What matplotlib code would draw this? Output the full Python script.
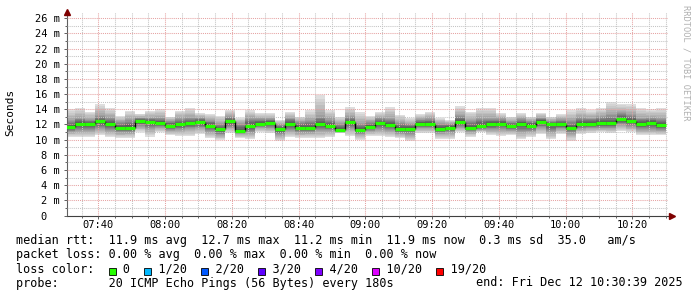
import numpy as np
import pandas as pd
import matplotlib
matplotlib.use("Agg")
import matplotlib.pyplot as plt
import matplotlib.dates as mdates
from matplotlib.patches import Rectangle
from matplotlib.ticker import MultipleLocator, FixedFormatter, FixedLocator

# ---- data: 20-ping rounds every 180 s, values in ms ----
step_start = pd.Timestamp("2025-12-12 07:30:00")
n_steps = 60

median_ms = [11.7, 12.05, 12.05, 12.4, 12.0, 11.6, 11.6, 12.45, 12.3, 12.2,
             11.85, 12.0, 12.15, 12.3, 11.85, 11.35, 12.42, 11.2, 11.85, 12.1,
             12.2, 11.36, 12.1, 11.58, 11.58, 12.0, 11.8, 11.27, 12.28, 11.27,
             11.7, 12.15, 11.98, 11.45, 11.45, 12.07, 12.07, 11.45, 11.58, 12.28,
             11.58, 11.85, 12.02, 12.1, 11.85, 12.05, 11.85, 12.33, 12.02, 12.02,
             11.53, 12.07, 12.07, 12.15, 12.15, 12.73, 12.47, 12.07, 12.24, 11.9]

max_ms = [14.0, 14.2, 13.7, 14.7, 14.15, 13.15, 13.8, 13.4, 13.8, 14.0,
          13.05, 13.8, 14.15, 13.5, 13.4, 13.15, 13.85, 12.85, 13.85, 13.5,
          13.5, 12.6, 13.7, 13.05, 13.85, 15.85, 13.85, 12.95, 14.3, 13.6,
          13.15, 13.7, 14.3, 13.25, 12.85, 13.4, 13.7, 12.85, 12.6, 14.4,
          13.7, 14.15, 14.15, 13.55, 13.05, 13.55, 13.05, 13.55, 13.05, 13.4,
          13.85, 14.15, 13.85, 14.15, 15.0, 14.7, 14.7, 14.15, 14.0, 14.15]

min_ms = [10.4, 10.3, 10.4, 10.6, 10.3, 10.2, 10.25, 11.0, 10.4, 11.0,
          10.6, 10.5, 10.5, 10.7, 10.25, 9.95, 10.9, 10.2, 10.05, 11.0,
          10.9, 9.85, 10.4, 10.2, 10.25, 10.2, 10.4, 10.85, 10.5, 9.95,
          10.5, 10.45, 10.4, 10.2, 9.85, 10.9, 10.9, 10.1, 10.1, 11.0,
          10.4, 11.0, 10.6, 10.5, 10.6, 10.05, 10.4, 10.75, 10.05, 10.75,
          9.85, 10.75, 10.9, 11.0, 10.9, 11.2, 11.0, 10.6, 10.6, 10.6]

q_hi_ms = [12.6, 12.9, 12.7, 13.3, 13.0, 12.4, 12.7, 12.9, 12.9, 12.9,
           12.5, 12.9, 13.0, 12.9, 12.6, 12.2, 13.1, 12.2, 12.9, 12.8,
           12.8, 12.0, 12.9, 12.4, 12.6, 13.2, 12.8, 12.2, 13.1, 12.2,
           12.4, 12.9, 12.9, 12.3, 12.1, 12.7, 12.8, 12.2, 12.1, 13.2,
           12.6, 12.9, 12.9, 12.8, 12.4, 12.8, 12.5, 12.9, 12.5, 12.7,
           12.6, 13.0, 12.9, 13.1, 13.4, 13.6, 13.4, 12.9, 12.9, 12.8]

q_lo_ms = [11.0, 11.1, 11.2, 11.4, 11.1, 10.9, 10.9, 11.7, 11.4, 11.6,
           11.2, 11.3, 11.4, 11.5, 11.0, 10.6, 11.6, 10.8, 10.9, 11.6,
           11.5, 10.6, 11.2, 10.9, 10.9, 11.1, 11.2, 11.0, 11.4, 10.7,
           11.1, 11.3, 11.2, 10.8, 10.6, 11.5, 11.5, 10.8, 10.9, 11.6,
           11.0, 11.3, 11.3, 11.3, 11.2, 11.0, 11.1, 11.5, 11.0, 11.4,
           10.8, 11.4, 11.5, 11.5, 11.5, 11.9, 11.7, 11.3, 11.3, 11.2]

loss_labels = ["0", "1/20", "2/20", "3/20", "4/20", "10/20", "19/20"]
loss_colors = ["#26ff00", "#00b8ff", "#0059ff", "#5e00ff", "#7e00ff", "#dd00ff", "#ff0000"]

y_ticks = list(range(0, 27, 2))
y_labels = ["0  "] + [f"{v} m" for v in y_ticks[1:]]

# ---- figure ----
plt.rcParams["font.family"] = "DejaVu Sans Mono"
W, H = 697, 297
fig = plt.figure(figsize=(W / 100, H / 100), dpi=100)
fig.patch.set_facecolor("white")

x0, x1, ytop, ybot = 67, 668, 12, 215.5
ax = fig.add_axes([x0 / W, 1 - ybot / H, (x1 - x0) / W, (ybot - ytop) / H])

edges = pd.date_range(step_start, periods=n_steps + 1, freq="3min")
ex = mdates.date2num(edges.to_pydatetime())
left = ex[:-1]
width = ex[1] - ex[0]

med = np.array(median_ms)
lo, hi = np.array(min_ms), np.array(max_ms)
qlo, qhi = np.array(q_lo_ms), np.array(q_hi_ms)

# smoke: outer layers light, inner layers dark
outer = np.linspace(0, 1, 7)
outer_cols = np.linspace(0.87, 0.62, 7)
for t, c in zip(outer, outer_cols):
    b = lo + (qlo - lo) * t
    tp = hi + (qhi - hi) * t
    ax.bar(left, tp - b, bottom=b, width=width, align="edge",
           color=str(c), linewidth=0, zorder=1)
inner = np.linspace(0, 1, 7)[1:]
inner_cols = np.linspace(0.57, 0.30, 6)
for t, c in zip(inner, inner_cols):
    b = qlo + (med - 0.12 - qlo) * t
    tp = qhi + (med + 0.12 - qhi) * t
    ax.bar(left, tp - b, bottom=b, width=width, align="edge",
           color=str(c), linewidth=0, zorder=1)

# median line
ax.vlines(ex[1:-1], med[:-1], med[1:], color="black", linewidth=1.0, zorder=3)
ax.hlines(med, ex[:-1], ex[1:], color=loss_colors[0], linewidth=2.3, zorder=4)

# axes range / grid
t_start = mdates.date2num(pd.Timestamp("2025-12-12 07:30:39").to_pydatetime())
t_end = mdates.date2num(pd.Timestamp("2025-12-12 10:30:39").to_pydatetime())
ax.set_xlim(t_start, t_end)
ax.set_ylim(0, (ybot - ytop) / 7.585)

ax.xaxis.set_major_locator(mdates.MinuteLocator(byminute=[0, 20, 40]))
ax.xaxis.set_minor_locator(mdates.MinuteLocator(byminute=range(0, 60, 5)))
ax.xaxis.set_major_formatter(mdates.DateFormatter("%H:%M"))
ax.yaxis.set_major_locator(FixedLocator(y_ticks))
ax.yaxis.set_major_formatter(FixedFormatter(y_labels))
ax.yaxis.set_minor_locator(MultipleLocator(1))

ax.grid(True, which="minor", color="#c4c4c4", linestyle=(0, (1, 1)), linewidth=0.75, zorder=5)
ax.grid(True, which="major", color="#e6a3a3", linestyle=(0, (1, 1)), linewidth=0.75, zorder=5)
ax.set_axisbelow(False)

for s in ["top", "right"]:
    ax.spines[s].set_visible(False)
ax.spines["left"].set_color("#606060")
ax.spines["bottom"].set_color("#404040")
ax.tick_params(which="both", length=2, width=0.7, color="#606060", labelsize=7.5,
               labelcolor="black")
ax.tick_params(axis="x", which="major", pad=1.5)
ax.tick_params(axis="y", which="major", pad=3)
ax.tick_params(which="minor", length=1.5)

# axis arrows
ax.plot([0], [1.0], marker="^", markersize=4, color="#7f0000",
        transform=ax.transAxes, clip_on=False, zorder=10)
ax.plot([1.006], [0.0], marker=">", markersize=4, color="#7f0000",
        transform=ax.transAxes, clip_on=False, zorder=10)

fig.text(10 / W, 1 - 112 / H, "Seconds", rotation=90, ha="center", va="center",
         fontsize=8.0)
fig.text(686 / W, 1 - 5 / H, "RRDTOOL / TOBI OETIKER", rotation=270, ha="center",
         va="top", fontsize=6.2, color="#b0b0b0")

# ---- legend block (monospace columns) ----
fs = 8.5
cw = 0.602 * fs * 100 / 72   # char advance in px
lx = 16


def put(col, y, s):
    fig.text((lx + col * cw) / W, 1 - y / H, s, ha="left", va="baseline", fontsize=fs)


put(0, 244, "median rtt:  11.9 ms avg  12.7 ms max  11.2 ms min  "
            "11.9 ms now  0.3 ms sd  35.0   am/s")
put(0, 258, "packet loss: 0.00 % avg  0.00 % max  0.00 % min  0.00 % now")

line3 = "loss color:  "
box_cols = []
for i, lab in enumerate(loss_labels):
    box_cols.append(len(line3))
    line3 += "  " + lab + ("  " if i < len(loss_labels) - 1 else "")
put(0, 272.5, line3)
for c, col in zip(box_cols, loss_colors):
    bx = lx + c * cw + 0.5
    fig.patches.append(Rectangle((bx / W, 1 - 274.5 / H), 6.8 / W, 6.8 / H,
                                 transform=fig.transFigure, facecolor=col,
                                 edgecolor="black", linewidth=0.6))

put(0, 286.5, "probe:       20 ICMP Echo Pings (56 Bytes) every 180s")
fig.text(683 / W, 1 - 286.5 / H, "end: Fri Dec 12 10:30:39 2025", ha="right",
         va="baseline", fontsize=fs)

fig.savefig("out.png", dpi=100, facecolor="white")
